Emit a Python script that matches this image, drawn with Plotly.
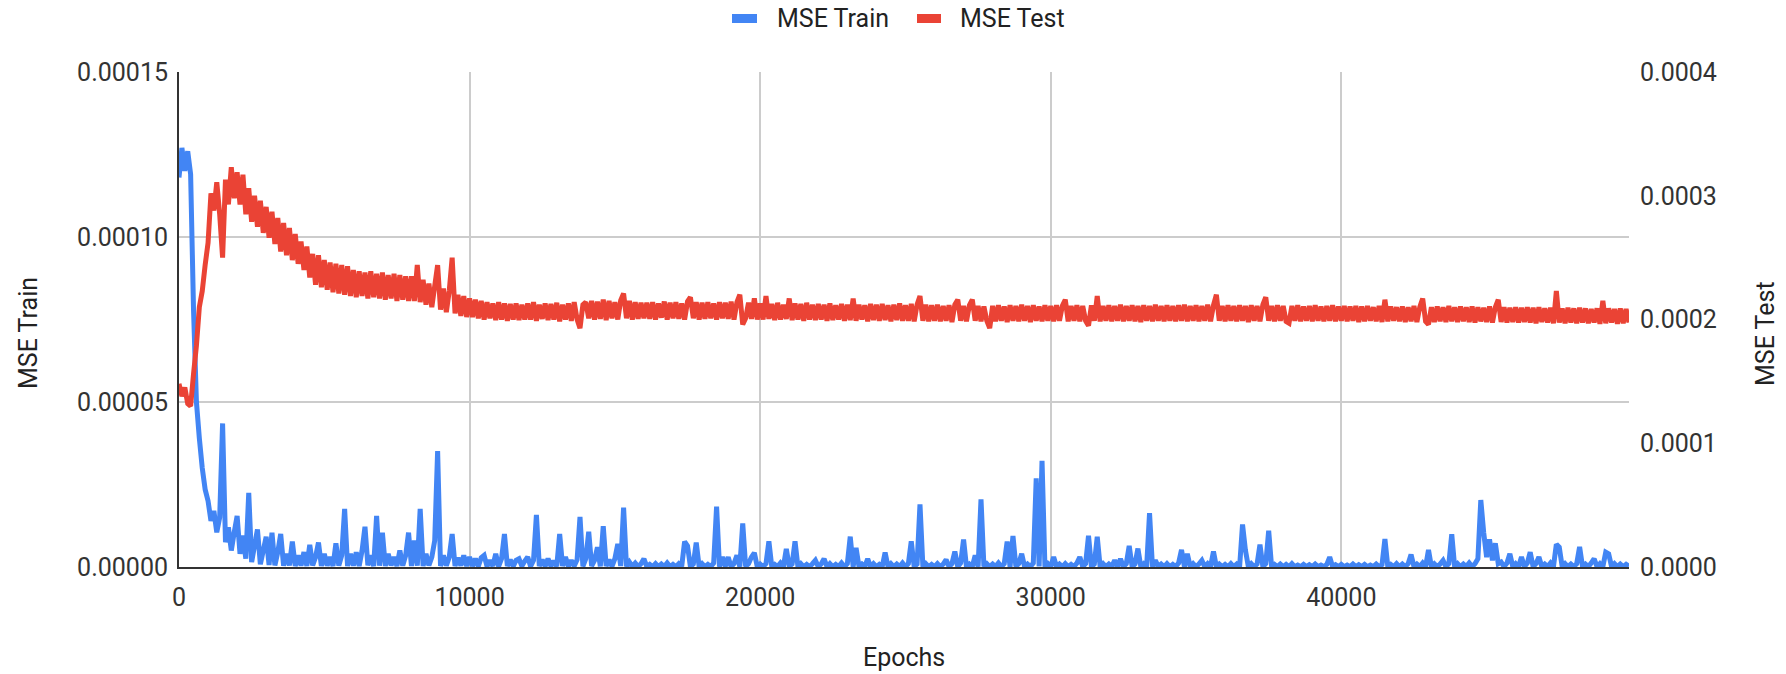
import plotly.graph_objects as go

# Epochs sampled every 100 epochs (categories of the x axis)
epochs = list(range(0, 50000, 100))

# MSE Train values, in units of 1e-7
train_e7 = [
    1180, 1270, 1200, 1260, 1190, 780, 500, 390, 300, 235, 200, 140, 170, 105, 150, 435, 75, 120, 50, 105,
    155, 40, 95, 25, 225, 15, 65, 114, 8, 50, 92, 6, 104, 5, 45, 100, 4, 40, 5, 77,
    3, 35, 4, 45, 3, 67, 5, 30, 74, 3, 40, 4, 30, 3, 72, 4, 35, 176, 3, 40,
    4, 45, 3, 50, 122, 5, 35, 3, 155, 4, 104, 3, 40, 5, 30, 3, 50, 4, 35, 104,
    3, 80, 4, 176, 3, 40, 5, 30, 80, 351, 3, 35, 4, 30, 100, 3, 28, 4, 35, 3,
    30, 3, 25, 2, 28, 35, 2, 20, 3, 40, 2, 25, 100, 3, 22, 2, 20, 25, 3, 18,
    30, 2, 20, 158, 3, 22, 2, 25, 3, 18, 2, 100, 3, 30, 2, 20, 3, 22, 152, 2,
    25, 107, 3, 20, 60, 2, 124, 3, 22, 2, 25, 70, 3, 180, 2, 15, 2, 12, 1, 10,
    25, 1, 8, 1, 10, 1, 9, 1, 12, 1, 8, 1, 10, 2, 77, 64, 1, 9, 74, 1,
    10, 1, 8, 1, 12, 183, 1, 30, 2, 30, 1, 10, 35, 1, 132, 2, 10, 30, 43, 1,
    9, 1, 10, 78, 1, 8, 1, 12, 1, 55, 2, 9, 78, 1, 10, 1, 8, 1, 10, 20,
    1, 9, 25, 1, 10, 1, 8, 1, 12, 1, 10, 92, 1, 58, 2, 9, 1, 25, 1, 10,
    1, 8, 1, 44, 1, 10, 1, 9, 1, 12, 1, 10, 78, 1, 9, 190, 1, 10, 1, 8,
    1, 10, 1, 9, 22, 1, 10, 47, 1, 12, 83, 1, 9, 1, 35, 1, 205, 2, 10, 1,
    9, 1, 12, 1, 10, 77, 1, 94, 2, 10, 40, 1, 9, 1, 12, 269, 2, 322, 1, 10,
    1, 30, 1, 9, 1, 10, 1, 8, 1, 12, 30, 1, 10, 95, 1, 9, 92, 1, 10, 1,
    9, 1, 20, 1, 25, 1, 10, 64, 1, 9, 56, 1, 10, 1, 163, 1, 20, 1, 9, 1,
    10, 1, 8, 1, 12, 52, 1, 40, 1, 10, 1, 9, 20, 1, 10, 1, 47, 1, 9, 1,
    8, 1, 10, 1, 9, 1, 129, 51, 1, 10, 1, 9, 68, 1, 10, 110, 1, 8, 1, 9,
    1, 8, 1, 10, 1, 6, 1, 8, 1, 7, 1, 9, 1, 6, 1, 8, 30, 1, 7, 1,
    8, 1, 6, 1, 9, 1, 7, 1, 8, 1, 6, 1, 9, 1, 7, 85, 1, 8, 1, 10,
    1, 9, 1, 10, 38, 1, 9, 1, 12, 1, 52, 1, 10, 1, 9, 20, 1, 10, 99, 1,
    10, 1, 9, 1, 12, 1, 10, 25, 203, 104, 30, 84, 20, 72, 10, 15, 1, 12, 40, 1,
    10, 1, 30, 1, 12, 45, 1, 10, 30, 1, 9, 1, 12, 1, 69, 60, 1, 10, 1, 9,
    1, 10, 61, 1, 9, 1, 12, 25, 1, 10, 1, 45, 40, 1, 10, 1, 9, 1, 8, 2,
]

# MSE Test values, in units of 1e-7
test_e7 = [
    1480, 1380, 1450, 1320, 1300, 1560, 1790, 2100, 2230, 2440, 2620, 3020, 2880, 3110, 2850, 2500, 3130, 2930, 3230, 2980,
    3190, 2930, 3170, 2850, 3060, 2790, 3000, 2750, 2960, 2700, 2910, 2660, 2870, 2610, 2820, 2550, 2780, 2520, 2740, 2480,
    2690, 2450, 2630, 2400, 2590, 2340, 2530, 2280, 2520, 2260, 2480, 2240, 2460, 2220, 2450, 2210, 2440, 2200, 2430, 2190,
    2400, 2180, 2390, 2190, 2380, 2170, 2390, 2180, 2370, 2170, 2380, 2160, 2360, 2170, 2370, 2150, 2360, 2160, 2350, 2150,
    2350, 2150, 2440, 2140, 2320, 2120, 2290, 2100, 2270, 2440, 2080, 2250, 2060, 2230, 2500, 2050, 2200, 2030, 2190, 2020,
    2170, 2020, 2160, 2010, 2150, 2000, 2140, 2010, 2130, 1995, 2140, 2000, 2130, 1990, 2125, 2000, 2130, 1995, 2120, 2000,
    2130, 2000, 2140, 1990, 2120, 2005, 2130, 1995, 2125, 2000, 2135, 1985, 2120, 2000, 2130, 1990, 2140, 2000, 1930, 2120,
    2140, 2010, 2150, 2000, 2145, 2005, 2160, 1995, 2150, 2010, 2140, 2000, 2155, 2210, 2010, 2150, 2000, 2140, 2005, 2135,
    2010, 2135, 2005, 2140, 2000, 2130, 2015, 2145, 2000, 2135, 2010, 2140, 2005, 2130, 2000, 2145, 2180, 2010, 2140, 2000,
    2135, 2005, 2140, 2010, 2130, 2000, 2140, 2010, 2135, 2005, 2145, 2000, 2140, 2200, 1960, 2010, 2135, 2005, 2170, 2000,
    2130, 2000, 2190, 2005, 2125, 1995, 2135, 2000, 2120, 2005, 2170, 1995, 2130, 2000, 2125, 1990, 2135, 2000, 2120, 1995,
    2125, 2000, 2120, 1990, 2130, 1995, 2115, 2000, 2125, 1990, 2120, 1995, 2170, 1990, 2120, 2000, 2115, 1985, 2125, 1995,
    2120, 1990, 2125, 1995, 2115, 1985, 2120, 1995, 2130, 1990, 2115, 1990, 2125, 1985, 2120, 2190, 1990, 2120, 1985, 2115,
    1990, 2120, 1985, 2110, 1990, 2115, 1980, 2120, 2160, 1990, 2110, 1985, 2115, 2160, 1990, 2110, 1985, 2105, 1990, 1930,
    2110, 1985, 2115, 1990, 2105, 1980, 2115, 1990, 2110, 1985, 2120, 1990, 2110, 1980, 2115, 1990, 2105, 1985, 2115, 1990,
    2110, 1985, 2115, 1990, 2110, 2160, 1985, 2110, 1990, 2115, 1985, 2110, 1990, 1950, 2115, 1990, 2190, 1985, 2110, 1990,
    2115, 1985, 2110, 1990, 2120, 1985, 2110, 1990, 2115, 1985, 2110, 1980, 2115, 1990, 2110, 1985, 2120, 1990, 2110, 1985,
    2115, 1990, 2110, 1985, 2115, 1990, 2120, 1985, 2110, 1990, 2115, 1985, 2110, 1990, 2120, 1985, 2115, 2200, 1990, 2110,
    1985, 2115, 1990, 2110, 1985, 2115, 1990, 2110, 1980, 2115, 1990, 2110, 1985, 2120, 2180, 1990, 2110, 1985, 2115, 1990,
    2110, 1985, 1970, 2110, 1990, 2115, 1985, 2105, 1990, 2110, 1985, 2115, 1990, 2105, 1985, 2110, 1990, 2115, 1985, 2105,
    1990, 2110, 1985, 2105, 1990, 2110, 1980, 2105, 1985, 2110, 1990, 2100, 1985, 2110, 1980, 2160, 1985, 2105, 1990, 2100,
    1985, 2105, 1980, 2100, 1985, 2110, 1980, 2100, 2170, 1985, 1960, 2100, 1980, 2105, 1985, 2100, 1980, 2110, 1985, 2100,
    1980, 2105, 1985, 2100, 1980, 2105, 1975, 2100, 1985, 2095, 1980, 2105, 1975, 2100, 2160, 1980, 2100, 1975, 2095, 1980,
    2100, 1975, 2095, 1980, 2100, 1975, 2095, 1970, 2100, 1980, 2090, 1975, 2095, 1970, 2230, 1975, 2090, 1970, 2095, 1975,
    2090, 1970, 2095, 1975, 2090, 1970, 2085, 1975, 2090, 1965, 2150, 1970, 2090, 1975, 2085, 1965, 2090, 1970, 2085, 1975,
]

x_ticks = [0, 10000, 20000, 30000, 40000]
left_ticks = [0, 0.00005, 0.0001, 0.00015]
right_ticks = [0, 0.0001, 0.0002, 0.0003, 0.0004]
series_names = ["MSE Train", "MSE Test"]

mse_train = [v * 1e-7 for v in train_e7]
mse_test = [v * 1e-7 for v in test_e7]

BLUE = "#4285F4"
RED = "#EA4335"
FONT = "Roboto, Arial, sans-serif"
TXT = "#333333"
TITLE = "#222222"
FS = 25

# plot area in pixels (for placing titles / legend in paper coords)
L, R, T, B = 179, 1629, 72, 567
W, H = R - L, B - T


def px(xp):
    return (xp - L) / W


def py(yp):
    return (B - yp) / H


fig = go.Figure()
fig.add_trace(go.Scatter(x=epochs, y=mse_train, mode="lines", name=series_names[0],
                         line=dict(color=BLUE, width=5, simplify=False), yaxis="y",
                         showlegend=False))
fig.add_trace(go.Scatter(x=epochs, y=mse_test, mode="lines", name=series_names[1],
                         line=dict(color=RED, width=5, simplify=False), yaxis="y2",
                         showlegend=False))

# custom legend (swatch + label) matching the reference layout
legend_items = [(series_names[0], BLUE, 732, 757, 775), (series_names[1], RED, 917, 941, 958)]
shapes = []
annotations = []
for name, col, sx0, sx1, tx in legend_items:
    shapes.append(dict(type="rect", xref="paper", yref="paper",
                       x0=px(sx0), x1=px(sx1), y0=py(23), y1=py(14),
                       fillcolor=col, line=dict(width=0)))
    annotations.append(dict(text=name, xref="paper", yref="paper", x=px(tx), y=py(18.5),
                            xanchor="left", yanchor="middle", showarrow=False,
                            font=dict(size=FS, color=TITLE)))

annotations += [
    dict(text="MSE Train", xref="paper", yref="paper", x=px(28), y=py(333),
         textangle=-90, showarrow=False, xanchor="center", yanchor="middle",
         font=dict(size=FS, color=TITLE)),
    dict(text="MSE Test", xref="paper", yref="paper", x=px(1765), y=py(334),
         textangle=-90, showarrow=False, xanchor="center", yanchor="middle",
         font=dict(size=FS, color=TITLE)),
    dict(text="Epochs", xref="paper", yref="paper", x=0.5, y=py(657),
         showarrow=False, xanchor="center", yanchor="middle",
         font=dict(size=FS, color=TITLE)),
]

fig.update_layout(
    width=1786, height=674,
    margin=dict(l=L, r=1786 - R, t=T, b=674 - B),
    paper_bgcolor="white", plot_bgcolor="white",
    font=dict(family=FONT, size=FS, color=TXT),
    showlegend=False,
    shapes=shapes,
    annotations=annotations,
    xaxis=dict(range=[0, 49900], tickvals=x_ticks, ticktext=[str(t) for t in x_ticks],
               showgrid=True, gridcolor="#cccccc", gridwidth=2,
               showline=True, linecolor="#333333", linewidth=2,
               zeroline=False, ticks="", ticklabelstandoff=7, automargin=False),
    yaxis=dict(range=[0, 0.00015], tickvals=left_ticks, tickformat=".5f",
               showgrid=True, gridcolor="#cccccc", gridwidth=2,
               showline=True, linecolor="#333333", linewidth=2,
               zeroline=False, ticks="", ticklabelstandoff=4, automargin=False),
    yaxis2=dict(range=[0, 0.0004], tickvals=right_ticks, tickformat=".4f",
                overlaying="y", side="right", showgrid=False, zeroline=False,
                showline=False, ticks="", ticklabelstandoff=10, automargin=False),
)

fig.write_html(
    "out.html",
    config={"displayModeBar": False},
    post_script="document.body.style.margin='0';document.body.style.overflow='hidden';",
)
